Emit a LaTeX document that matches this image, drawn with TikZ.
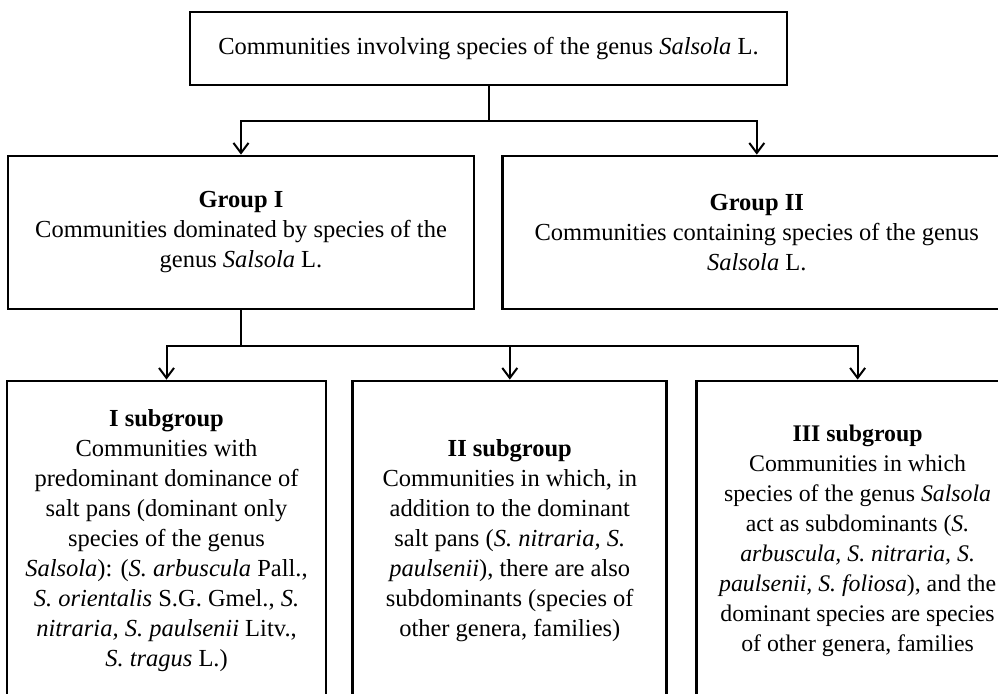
\documentclass[tikz,border=0pt]{standalone}
\usepackage{fontspec}
\setmainfont{Liberation Serif}
\usetikzlibrary{arrows.meta,positioning}

\begin{document}
\begin{tikzpicture}[x=1pt,y=-1pt,>={Straight Barb[length=10pt,width=15pt]},
    line width=2pt, node distance=24pt,
    textbox/.style={rectangle, draw=black, line width=2.8pt, inner sep=0pt,
                    align=center, font=\fontsize{24.5}{30}\selectfont}]
  \useasboundingbox (0,0) rectangle (998,693);
  \clip (0,0) rectangle (998,693);

  \node[textbox, minimum width=597pt, minimum height=73pt] (top) at (488.5,48.5)
    {Communities involving species of the genus \textit{Salsola} L.};

  \node[textbox, minimum width=466pt, minimum height=153pt] (grpA) at (241,232.5)
    {\textbf{Group I}\\Communities dominated by species of the\\genus \textit{Salsola} L.};
  \node[textbox, minimum width=508pt, minimum height=153pt, right=26pt of grpA] (grpB)
    {\textbf{Group II}\\Communities containing species of the genus\\\textit{Salsola} L.};

  \node[textbox, minimum width=319pt, minimum height=320pt] (subA) at (166.5,541)
    {\textbf{I subgroup}\\Communities with\\predominant dominance of\\salt pans (dominant only\\species of the genus\\
     \textit{Salsola}): (\textit{S. arbuscula} Pall.,\\\textit{S. orientalis} S.G. Gmel., \textit{S.}\\
     \textit{nitraria, S. paulsenii} Litv.,\\\textit{S. tragus} L.)};
  \node[textbox, minimum width=314pt, minimum height=320pt, right=of subA] (subB)
    {\textbf{II subgroup}\\Communities in which, in\\addition to the dominant\\salt pans (\textit{S. nitraria, S.}\\
     \textit{paulsenii}), there are also\\subdominants (species of\\other genera, families)};
  \node[textbox, minimum width=322pt, minimum height=320pt, right=27pt of subB,
        font=\fontsize{23.8}{30}\selectfont] (subC)
    {\textbf{III subgroup}\\Communities in which\\species of the genus \textit{Salsola}\\act as subdominants (\textit{S.}\\
     \textit{arbuscula, S. nitraria, S.}\\\textit{paulsenii, S. foliosa}), and the\\dominant species are species\\of other genera, families};

  % connectors
  \draw (top.south) -- ++(0,35) coordinate (jtop);
  \draw[->] (jtop) -| (grpA.north);
  \draw[->] (jtop) -| (grpB.north);

  \draw (grpA.south) -- ++(0,36) coordinate (jgrp);
  \draw[->] (jgrp) -| (subA.north);
  \draw[->] (jgrp) -| (subB.north);
  \draw[->] (jgrp) -| (subC.north);
\end{tikzpicture}
\end{document}
